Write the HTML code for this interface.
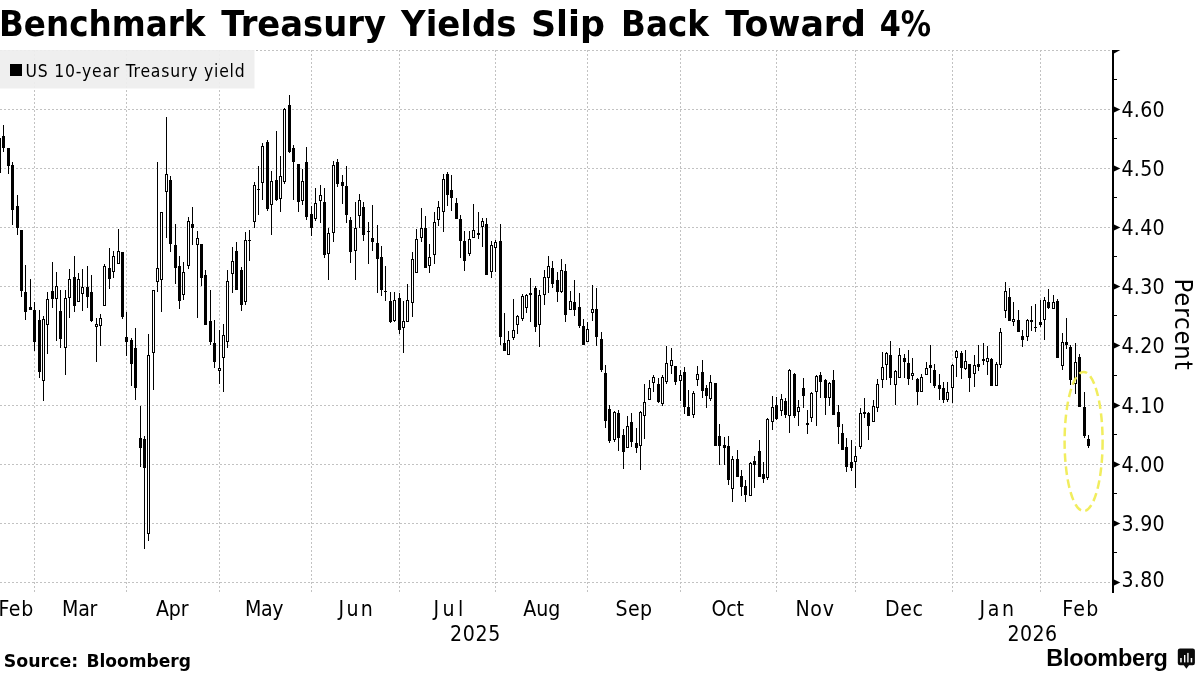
<!DOCTYPE html>
<html lang="en"><head><meta charset="utf-8"><title>Benchmark Treasury Yields Slip Back Toward 4%</title>
<style>
html,body{margin:0;padding:0;background:#fff;}
body{width:1199px;height:674px;overflow:hidden;}
svg{display:block;will-change:transform;}
.t{font-family:"DejaVu Sans","Liberation Sans",sans-serif;font-weight:bold;fill:#000;}
.c{font-family:"DejaVu Sans Condensed","DejaVu Sans","Liberation Sans",sans-serif;fill:#000;}
.l{font-family:"Liberation Sans",sans-serif;font-weight:bold;fill:#000;}
.g{stroke:#c2c2c2;stroke-width:1;stroke-dasharray:2.4 1.6;fill:none;shape-rendering:crispEdges;}
.k{fill:#000;shape-rendering:crispEdges;}
.w{fill:#fff;shape-rendering:crispEdges;}
</style></head><body>
<svg width="1199" height="674" viewBox="0 0 1199 674">
<rect width="1199" height="674" fill="#fff"/>
<g class="g">
<line x1="0" y1="50.5" x2="1112" y2="50.5"/>
<line x1="0" y1="109.5" x2="1112" y2="109.5"/>
<line x1="0" y1="168.5" x2="1112" y2="168.5"/>
<line x1="0" y1="227.5" x2="1112" y2="227.5"/>
<line x1="0" y1="286.5" x2="1112" y2="286.5"/>
<line x1="0" y1="345.5" x2="1112" y2="345.5"/>
<line x1="0" y1="405.5" x2="1112" y2="405.5"/>
<line x1="0" y1="464.5" x2="1112" y2="464.5"/>
<line x1="0" y1="523.5" x2="1112" y2="523.5"/>
<line x1="0" y1="582.5" x2="1112" y2="582.5"/>
<line x1="34.5" y1="50" x2="34.5" y2="593"/>
<line x1="126.5" y1="50" x2="126.5" y2="593"/>
<line x1="219.5" y1="50" x2="219.5" y2="593"/>
<line x1="311.5" y1="50" x2="311.5" y2="593"/>
<line x1="399.5" y1="50" x2="399.5" y2="593"/>
<line x1="495.5" y1="50" x2="495.5" y2="593"/>
<line x1="587.5" y1="50" x2="587.5" y2="593"/>
<line x1="680.5" y1="50" x2="680.5" y2="593"/>
<line x1="776.5" y1="50" x2="776.5" y2="593"/>
<line x1="855.5" y1="50" x2="855.5" y2="593"/>
<line x1="952.5" y1="50" x2="952.5" y2="593"/>
<line x1="1040.5" y1="50" x2="1040.5" y2="593"/>
</g>
<rect x="0" y="50" width="254.5" height="38.5" fill="#eeeeee" fill-opacity="0.93"/>
<rect x="10" y="64" width="12" height="12" fill="#000"/>
<text class="c" x="25.5" y="76.8" font-size="17.4" letter-spacing="0.8">US 10-year Treasury yield</text>
<g>
<rect class="k" x="-1" y="130" width="1" height="45"/>
<rect class="k" x="-2" y="138" width="3" height="35"/>
<rect class="k" x="3" y="125" width="1" height="27"/>
<rect class="k" x="2" y="136" width="3" height="12"/>
<rect class="k" x="8" y="148" width="1" height="26"/>
<rect class="k" x="7" y="148" width="3" height="18"/>
<rect class="k" x="12" y="162" width="1" height="63"/>
<rect class="k" x="11" y="165" width="3" height="45"/>
<rect class="k" x="17" y="195" width="1" height="40"/>
<rect class="k" x="16" y="206" width="3" height="22"/>
<rect class="k" x="21" y="230" width="1" height="67"/>
<rect class="k" x="20" y="230" width="3" height="61"/>
<rect class="k" x="25" y="265" width="1" height="55"/>
<rect class="k" x="24" y="292" width="3" height="20"/>
<rect class="k" x="30" y="279" width="1" height="31"/>
<rect class="k" x="29" y="307" width="3" height="3"/>
<rect class="k" x="34" y="302" width="1" height="49"/>
<rect class="k" x="33" y="310" width="3" height="32"/>
<rect class="k" x="39" y="310" width="1" height="68"/>
<rect class="k" x="38" y="320" width="3" height="52"/>
<rect class="k" x="43" y="316" width="1" height="85"/>
<rect class="k" x="42" y="319" width="3" height="62"/>
<rect class="w" x="43" y="320" width="1" height="60"/>
<rect class="k" x="47" y="292" width="1" height="62"/>
<rect class="k" x="46" y="299" width="3" height="26"/>
<rect class="w" x="47" y="300" width="1" height="24"/>
<rect class="k" x="52" y="262" width="1" height="46"/>
<rect class="k" x="51" y="291" width="3" height="8"/>
<rect class="k" x="56" y="272" width="1" height="69"/>
<rect class="k" x="55" y="286" width="3" height="13"/>
<rect class="w" x="56" y="287" width="1" height="11"/>
<rect class="k" x="60" y="290" width="1" height="58"/>
<rect class="k" x="59" y="311" width="3" height="28"/>
<rect class="k" x="65" y="290" width="1" height="85"/>
<rect class="k" x="64" y="298" width="3" height="50"/>
<rect class="w" x="65" y="299" width="1" height="48"/>
<rect class="k" x="69" y="269" width="1" height="49"/>
<rect class="k" x="68" y="279" width="3" height="19"/>
<rect class="w" x="69" y="280" width="1" height="17"/>
<rect class="k" x="74" y="256" width="1" height="56"/>
<rect class="k" x="73" y="277" width="3" height="29"/>
<rect class="k" x="78" y="273" width="1" height="29"/>
<rect class="k" x="77" y="279" width="3" height="23"/>
<rect class="w" x="78" y="280" width="1" height="21"/>
<rect class="k" x="82" y="269" width="1" height="42"/>
<rect class="k" x="81" y="287" width="3" height="7"/>
<rect class="w" x="82" y="288" width="1" height="5"/>
<rect class="k" x="87" y="266" width="1" height="42"/>
<rect class="k" x="86" y="287" width="3" height="10"/>
<rect class="k" x="91" y="275" width="1" height="47"/>
<rect class="k" x="90" y="292" width="3" height="29"/>
<rect class="k" x="96" y="318" width="1" height="44"/>
<rect class="k" x="95" y="324" width="3" height="3"/>
<rect class="w" x="96" y="325" width="1" height="1"/>
<rect class="k" x="100" y="314" width="1" height="32"/>
<rect class="k" x="99" y="318" width="3" height="8"/>
<rect class="w" x="100" y="319" width="1" height="6"/>
<rect class="k" x="104" y="264" width="1" height="42"/>
<rect class="k" x="103" y="266" width="3" height="40"/>
<rect class="w" x="104" y="267" width="1" height="38"/>
<rect class="k" x="109" y="248" width="1" height="41"/>
<rect class="k" x="108" y="268" width="3" height="11"/>
<rect class="k" x="113" y="251" width="1" height="27"/>
<rect class="k" x="112" y="256" width="3" height="16"/>
<rect class="w" x="113" y="257" width="1" height="14"/>
<rect class="k" x="118" y="229" width="1" height="35"/>
<rect class="k" x="117" y="251" width="3" height="13"/>
<rect class="w" x="118" y="252" width="1" height="11"/>
<rect class="k" x="122" y="252" width="1" height="67"/>
<rect class="k" x="121" y="252" width="3" height="65"/>
<rect class="k" x="126" y="312" width="1" height="44"/>
<rect class="k" x="125" y="337" width="3" height="5"/>
<rect class="k" x="131" y="338" width="1" height="48"/>
<rect class="k" x="130" y="340" width="3" height="24"/>
<rect class="k" x="135" y="328" width="1" height="72"/>
<rect class="k" x="134" y="348" width="3" height="40"/>
<rect class="k" x="140" y="406" width="1" height="61"/>
<rect class="k" x="139" y="438" width="3" height="10"/>
<rect class="k" x="144" y="436" width="1" height="113"/>
<rect class="k" x="143" y="439" width="3" height="29"/>
<rect class="k" x="148" y="334" width="1" height="207"/>
<rect class="k" x="147" y="355" width="3" height="179"/>
<rect class="w" x="148" y="356" width="1" height="177"/>
<rect class="k" x="153" y="290" width="1" height="100"/>
<rect class="k" x="152" y="290" width="3" height="63"/>
<rect class="w" x="153" y="291" width="1" height="61"/>
<rect class="k" x="157" y="162" width="1" height="130"/>
<rect class="k" x="156" y="268" width="3" height="14"/>
<rect class="w" x="157" y="269" width="1" height="12"/>
<rect class="k" x="161" y="212" width="1" height="100"/>
<rect class="k" x="160" y="212" width="3" height="68"/>
<rect class="w" x="161" y="213" width="1" height="66"/>
<rect class="k" x="166" y="117" width="1" height="121"/>
<rect class="k" x="165" y="174" width="3" height="18"/>
<rect class="w" x="166" y="175" width="1" height="16"/>
<rect class="k" x="170" y="176" width="1" height="76"/>
<rect class="k" x="169" y="180" width="3" height="64"/>
<rect class="k" x="175" y="224" width="1" height="60"/>
<rect class="k" x="174" y="245" width="3" height="23"/>
<rect class="k" x="179" y="256" width="1" height="53"/>
<rect class="k" x="178" y="266" width="3" height="35"/>
<rect class="k" x="183" y="262" width="1" height="38"/>
<rect class="k" x="182" y="272" width="3" height="23"/>
<rect class="w" x="183" y="273" width="1" height="21"/>
<rect class="k" x="188" y="217" width="1" height="52"/>
<rect class="k" x="187" y="221" width="3" height="45"/>
<rect class="w" x="188" y="222" width="1" height="43"/>
<rect class="k" x="192" y="207" width="1" height="38"/>
<rect class="k" x="191" y="224" width="3" height="4"/>
<rect class="k" x="197" y="231" width="1" height="87"/>
<rect class="k" x="196" y="238" width="3" height="7"/>
<rect class="w" x="197" y="239" width="1" height="5"/>
<rect class="k" x="201" y="244" width="1" height="42"/>
<rect class="k" x="200" y="244" width="3" height="34"/>
<rect class="k" x="205" y="270" width="1" height="55"/>
<rect class="k" x="204" y="275" width="3" height="50"/>
<rect class="k" x="210" y="290" width="1" height="55"/>
<rect class="k" x="209" y="321" width="3" height="21"/>
<rect class="k" x="214" y="320" width="1" height="48"/>
<rect class="k" x="213" y="343" width="3" height="19"/>
<rect class="k" x="219" y="330" width="1" height="54"/>
<rect class="k" x="218" y="368" width="3" height="3"/>
<rect class="w" x="219" y="369" width="1" height="1"/>
<rect class="k" x="223" y="324" width="1" height="68"/>
<rect class="k" x="222" y="335" width="3" height="23"/>
<rect class="w" x="223" y="336" width="1" height="21"/>
<rect class="k" x="227" y="270" width="1" height="78"/>
<rect class="k" x="226" y="281" width="3" height="61"/>
<rect class="w" x="227" y="282" width="1" height="59"/>
<rect class="k" x="232" y="247" width="1" height="46"/>
<rect class="k" x="231" y="261" width="3" height="13"/>
<rect class="w" x="232" y="262" width="1" height="11"/>
<rect class="k" x="236" y="242" width="1" height="48"/>
<rect class="k" x="235" y="251" width="3" height="39"/>
<rect class="k" x="241" y="267" width="1" height="44"/>
<rect class="k" x="240" y="270" width="3" height="35"/>
<rect class="k" x="245" y="232" width="1" height="73"/>
<rect class="k" x="244" y="240" width="3" height="62"/>
<rect class="w" x="245" y="241" width="1" height="60"/>
<rect class="k" x="249" y="230" width="1" height="31"/>
<rect class="k" x="248" y="240" width="3" height="1"/>
<rect class="k" x="254" y="182" width="1" height="46"/>
<rect class="k" x="253" y="185" width="3" height="37"/>
<rect class="w" x="254" y="186" width="1" height="35"/>
<rect class="k" x="258" y="166" width="1" height="49"/>
<rect class="k" x="257" y="189" width="3" height="1"/>
<rect class="k" x="262" y="143" width="1" height="57"/>
<rect class="k" x="261" y="146" width="3" height="37"/>
<rect class="w" x="262" y="147" width="1" height="35"/>
<rect class="k" x="267" y="140" width="1" height="71"/>
<rect class="k" x="266" y="142" width="3" height="67"/>
<rect class="k" x="271" y="171" width="1" height="64"/>
<rect class="k" x="270" y="181" width="3" height="24"/>
<rect class="w" x="271" y="182" width="1" height="22"/>
<rect class="k" x="276" y="131" width="1" height="70"/>
<rect class="k" x="275" y="180" width="3" height="20"/>
<rect class="k" x="280" y="156" width="1" height="56"/>
<rect class="k" x="279" y="176" width="3" height="23"/>
<rect class="w" x="280" y="177" width="1" height="21"/>
<rect class="k" x="284" y="108" width="1" height="76"/>
<rect class="k" x="283" y="109" width="3" height="73"/>
<rect class="w" x="284" y="110" width="1" height="71"/>
<rect class="k" x="289" y="95" width="1" height="58"/>
<rect class="k" x="288" y="105" width="3" height="47"/>
<rect class="k" x="293" y="145" width="1" height="55"/>
<rect class="k" x="292" y="148" width="3" height="14"/>
<rect class="k" x="298" y="164" width="1" height="48"/>
<rect class="k" x="297" y="164" width="3" height="38"/>
<rect class="k" x="302" y="169" width="1" height="36"/>
<rect class="k" x="301" y="181" width="3" height="20"/>
<rect class="w" x="302" y="182" width="1" height="18"/>
<rect class="k" x="306" y="147" width="1" height="73"/>
<rect class="k" x="305" y="162" width="3" height="55"/>
<rect class="k" x="311" y="206" width="1" height="30"/>
<rect class="k" x="310" y="214" width="3" height="14"/>
<rect class="k" x="315" y="188" width="1" height="33"/>
<rect class="k" x="314" y="203" width="3" height="16"/>
<rect class="w" x="315" y="204" width="1" height="14"/>
<rect class="k" x="320" y="185" width="1" height="38"/>
<rect class="k" x="319" y="195" width="3" height="6"/>
<rect class="w" x="320" y="196" width="1" height="4"/>
<rect class="k" x="324" y="188" width="1" height="70"/>
<rect class="k" x="323" y="202" width="3" height="53"/>
<rect class="k" x="328" y="228" width="1" height="52"/>
<rect class="k" x="327" y="233" width="3" height="21"/>
<rect class="w" x="328" y="234" width="1" height="19"/>
<rect class="k" x="333" y="161" width="1" height="81"/>
<rect class="k" x="332" y="165" width="3" height="68"/>
<rect class="w" x="333" y="166" width="1" height="66"/>
<rect class="k" x="337" y="159" width="1" height="28"/>
<rect class="k" x="336" y="162" width="3" height="22"/>
<rect class="k" x="342" y="175" width="1" height="29"/>
<rect class="k" x="341" y="182" width="3" height="4"/>
<rect class="k" x="346" y="166" width="1" height="57"/>
<rect class="k" x="345" y="186" width="3" height="29"/>
<rect class="k" x="350" y="217" width="1" height="46"/>
<rect class="k" x="349" y="220" width="3" height="32"/>
<rect class="k" x="355" y="202" width="1" height="78"/>
<rect class="k" x="354" y="228" width="3" height="23"/>
<rect class="w" x="355" y="229" width="1" height="21"/>
<rect class="k" x="359" y="194" width="1" height="34"/>
<rect class="k" x="358" y="200" width="3" height="16"/>
<rect class="w" x="359" y="201" width="1" height="14"/>
<rect class="k" x="363" y="202" width="1" height="39"/>
<rect class="k" x="362" y="207" width="3" height="28"/>
<rect class="k" x="368" y="222" width="1" height="42"/>
<rect class="k" x="367" y="231" width="3" height="1"/>
<rect class="k" x="372" y="205" width="1" height="46"/>
<rect class="k" x="371" y="238" width="3" height="4"/>
<rect class="k" x="377" y="225" width="1" height="68"/>
<rect class="k" x="376" y="243" width="3" height="16"/>
<rect class="k" x="381" y="246" width="1" height="50"/>
<rect class="k" x="380" y="257" width="3" height="33"/>
<rect class="k" x="385" y="266" width="1" height="35"/>
<rect class="k" x="384" y="291" width="3" height="1"/>
<rect class="k" x="390" y="292" width="1" height="31"/>
<rect class="k" x="389" y="301" width="3" height="21"/>
<rect class="k" x="394" y="292" width="1" height="30"/>
<rect class="k" x="393" y="300" width="3" height="21"/>
<rect class="w" x="394" y="301" width="1" height="19"/>
<rect class="k" x="399" y="293" width="1" height="41"/>
<rect class="k" x="398" y="298" width="3" height="32"/>
<rect class="k" x="403" y="301" width="1" height="52"/>
<rect class="k" x="402" y="321" width="3" height="7"/>
<rect class="w" x="403" y="322" width="1" height="5"/>
<rect class="k" x="407" y="284" width="1" height="38"/>
<rect class="k" x="406" y="300" width="3" height="22"/>
<rect class="w" x="407" y="301" width="1" height="20"/>
<rect class="k" x="412" y="252" width="1" height="65"/>
<rect class="k" x="411" y="259" width="3" height="44"/>
<rect class="w" x="412" y="260" width="1" height="42"/>
<rect class="k" x="416" y="229" width="1" height="44"/>
<rect class="k" x="415" y="239" width="3" height="34"/>
<rect class="w" x="416" y="240" width="1" height="32"/>
<rect class="k" x="421" y="208" width="1" height="34"/>
<rect class="k" x="420" y="228" width="3" height="10"/>
<rect class="w" x="421" y="229" width="1" height="8"/>
<rect class="k" x="425" y="216" width="1" height="52"/>
<rect class="k" x="424" y="228" width="3" height="40"/>
<rect class="k" x="429" y="244" width="1" height="29"/>
<rect class="k" x="428" y="257" width="3" height="9"/>
<rect class="w" x="429" y="258" width="1" height="7"/>
<rect class="k" x="434" y="212" width="1" height="52"/>
<rect class="k" x="433" y="222" width="3" height="33"/>
<rect class="w" x="434" y="223" width="1" height="31"/>
<rect class="k" x="438" y="201" width="1" height="25"/>
<rect class="k" x="437" y="207" width="3" height="13"/>
<rect class="w" x="438" y="208" width="1" height="11"/>
<rect class="k" x="443" y="174" width="1" height="58"/>
<rect class="k" x="442" y="179" width="3" height="33"/>
<rect class="w" x="443" y="180" width="1" height="31"/>
<rect class="k" x="447" y="172" width="1" height="34"/>
<rect class="k" x="446" y="174" width="3" height="21"/>
<rect class="k" x="451" y="175" width="1" height="36"/>
<rect class="k" x="450" y="190" width="3" height="8"/>
<rect class="k" x="456" y="198" width="1" height="21"/>
<rect class="k" x="455" y="203" width="3" height="16"/>
<rect class="k" x="460" y="215" width="1" height="43"/>
<rect class="k" x="459" y="219" width="3" height="22"/>
<rect class="k" x="464" y="231" width="1" height="40"/>
<rect class="k" x="463" y="241" width="3" height="20"/>
<rect class="k" x="469" y="231" width="1" height="25"/>
<rect class="k" x="468" y="239" width="3" height="15"/>
<rect class="w" x="469" y="240" width="1" height="13"/>
<rect class="k" x="473" y="204" width="1" height="34"/>
<rect class="k" x="472" y="230" width="3" height="8"/>
<rect class="w" x="473" y="231" width="1" height="6"/>
<rect class="k" x="478" y="212" width="1" height="27"/>
<rect class="k" x="477" y="233" width="3" height="2"/>
<rect class="k" x="482" y="218" width="1" height="29"/>
<rect class="k" x="481" y="221" width="3" height="6"/>
<rect class="w" x="482" y="222" width="1" height="4"/>
<rect class="k" x="486" y="218" width="1" height="57"/>
<rect class="k" x="485" y="224" width="3" height="51"/>
<rect class="k" x="491" y="241" width="1" height="37"/>
<rect class="k" x="490" y="245" width="3" height="27"/>
<rect class="w" x="491" y="246" width="1" height="25"/>
<rect class="k" x="495" y="240" width="1" height="32"/>
<rect class="k" x="494" y="242" width="3" height="6"/>
<rect class="w" x="495" y="243" width="1" height="4"/>
<rect class="k" x="500" y="224" width="1" height="121"/>
<rect class="k" x="499" y="241" width="3" height="96"/>
<rect class="k" x="504" y="313" width="1" height="38"/>
<rect class="k" x="503" y="343" width="3" height="8"/>
<rect class="k" x="508" y="331" width="1" height="24"/>
<rect class="k" x="507" y="340" width="3" height="15"/>
<rect class="w" x="508" y="341" width="1" height="13"/>
<rect class="k" x="513" y="299" width="1" height="41"/>
<rect class="k" x="512" y="330" width="3" height="8"/>
<rect class="w" x="513" y="331" width="1" height="6"/>
<rect class="k" x="517" y="315" width="1" height="19"/>
<rect class="k" x="516" y="316" width="3" height="9"/>
<rect class="w" x="517" y="317" width="1" height="7"/>
<rect class="k" x="522" y="294" width="1" height="27"/>
<rect class="k" x="521" y="296" width="3" height="23"/>
<rect class="w" x="522" y="297" width="1" height="21"/>
<rect class="k" x="526" y="294" width="1" height="19"/>
<rect class="k" x="525" y="295" width="3" height="13"/>
<rect class="w" x="526" y="296" width="1" height="11"/>
<rect class="k" x="530" y="278" width="1" height="44"/>
<rect class="k" x="529" y="293" width="3" height="2"/>
<rect class="k" x="535" y="286" width="1" height="46"/>
<rect class="k" x="534" y="288" width="3" height="39"/>
<rect class="k" x="539" y="290" width="1" height="57"/>
<rect class="k" x="538" y="295" width="3" height="30"/>
<rect class="w" x="539" y="296" width="1" height="28"/>
<rect class="k" x="544" y="270" width="1" height="35"/>
<rect class="k" x="543" y="277" width="3" height="18"/>
<rect class="w" x="544" y="278" width="1" height="16"/>
<rect class="k" x="548" y="256" width="1" height="37"/>
<rect class="k" x="547" y="266" width="3" height="12"/>
<rect class="w" x="548" y="267" width="1" height="10"/>
<rect class="k" x="552" y="261" width="1" height="27"/>
<rect class="k" x="551" y="268" width="3" height="16"/>
<rect class="k" x="557" y="272" width="1" height="30"/>
<rect class="k" x="556" y="280" width="3" height="12"/>
<rect class="k" x="561" y="259" width="1" height="34"/>
<rect class="k" x="560" y="270" width="3" height="22"/>
<rect class="w" x="561" y="271" width="1" height="20"/>
<rect class="k" x="565" y="264" width="1" height="58"/>
<rect class="k" x="564" y="271" width="3" height="44"/>
<rect class="k" x="570" y="291" width="1" height="19"/>
<rect class="k" x="569" y="301" width="3" height="9"/>
<rect class="w" x="570" y="302" width="1" height="7"/>
<rect class="k" x="574" y="280" width="1" height="36"/>
<rect class="k" x="573" y="302" width="3" height="8"/>
<rect class="k" x="579" y="293" width="1" height="35"/>
<rect class="k" x="578" y="307" width="3" height="19"/>
<rect class="k" x="583" y="319" width="1" height="26"/>
<rect class="k" x="582" y="326" width="3" height="19"/>
<rect class="k" x="587" y="322" width="1" height="20"/>
<rect class="k" x="586" y="329" width="3" height="13"/>
<rect class="w" x="587" y="330" width="1" height="11"/>
<rect class="k" x="592" y="285" width="1" height="36"/>
<rect class="k" x="591" y="309" width="3" height="4"/>
<rect class="w" x="592" y="310" width="1" height="2"/>
<rect class="k" x="596" y="288" width="1" height="58"/>
<rect class="k" x="595" y="309" width="3" height="28"/>
<rect class="k" x="601" y="332" width="1" height="40"/>
<rect class="k" x="600" y="339" width="3" height="31"/>
<rect class="k" x="605" y="365" width="1" height="63"/>
<rect class="k" x="604" y="373" width="3" height="48"/>
<rect class="k" x="609" y="405" width="1" height="38"/>
<rect class="k" x="608" y="409" width="3" height="32"/>
<rect class="k" x="614" y="411" width="1" height="31"/>
<rect class="k" x="613" y="412" width="3" height="28"/>
<rect class="w" x="614" y="413" width="1" height="26"/>
<rect class="k" x="618" y="410" width="1" height="41"/>
<rect class="k" x="617" y="413" width="3" height="25"/>
<rect class="k" x="623" y="429" width="1" height="40"/>
<rect class="k" x="622" y="435" width="3" height="17"/>
<rect class="k" x="627" y="416" width="1" height="32"/>
<rect class="k" x="626" y="426" width="3" height="22"/>
<rect class="w" x="627" y="427" width="1" height="20"/>
<rect class="k" x="631" y="413" width="1" height="34"/>
<rect class="k" x="630" y="422" width="3" height="20"/>
<rect class="k" x="636" y="428" width="1" height="25"/>
<rect class="k" x="635" y="443" width="3" height="5"/>
<rect class="k" x="640" y="411" width="1" height="59"/>
<rect class="k" x="639" y="412" width="3" height="34"/>
<rect class="w" x="640" y="413" width="1" height="32"/>
<rect class="k" x="644" y="384" width="1" height="55"/>
<rect class="k" x="643" y="402" width="3" height="14"/>
<rect class="w" x="644" y="403" width="1" height="12"/>
<rect class="k" x="649" y="380" width="1" height="20"/>
<rect class="k" x="648" y="388" width="3" height="12"/>
<rect class="w" x="649" y="389" width="1" height="10"/>
<rect class="k" x="653" y="375" width="1" height="17"/>
<rect class="k" x="652" y="377" width="3" height="6"/>
<rect class="w" x="653" y="378" width="1" height="4"/>
<rect class="k" x="658" y="378" width="1" height="25"/>
<rect class="k" x="657" y="384" width="3" height="18"/>
<rect class="k" x="662" y="375" width="1" height="31"/>
<rect class="k" x="661" y="377" width="3" height="27"/>
<rect class="w" x="662" y="378" width="1" height="25"/>
<rect class="k" x="666" y="346" width="1" height="38"/>
<rect class="k" x="665" y="363" width="3" height="19"/>
<rect class="w" x="666" y="364" width="1" height="17"/>
<rect class="k" x="671" y="348" width="1" height="26"/>
<rect class="k" x="670" y="360" width="3" height="6"/>
<rect class="w" x="671" y="361" width="1" height="4"/>
<rect class="k" x="675" y="366" width="1" height="19"/>
<rect class="k" x="674" y="366" width="3" height="16"/>
<rect class="k" x="680" y="370" width="1" height="31"/>
<rect class="k" x="679" y="375" width="3" height="6"/>
<rect class="w" x="680" y="376" width="1" height="4"/>
<rect class="k" x="684" y="367" width="1" height="47"/>
<rect class="k" x="683" y="372" width="3" height="35"/>
<rect class="k" x="688" y="390" width="1" height="26"/>
<rect class="k" x="687" y="407" width="3" height="9"/>
<rect class="k" x="693" y="391" width="1" height="27"/>
<rect class="k" x="692" y="393" width="3" height="22"/>
<rect class="w" x="693" y="394" width="1" height="20"/>
<rect class="k" x="697" y="366" width="1" height="20"/>
<rect class="k" x="696" y="374" width="3" height="6"/>
<rect class="w" x="697" y="375" width="1" height="4"/>
<rect class="k" x="702" y="360" width="1" height="38"/>
<rect class="k" x="701" y="372" width="3" height="19"/>
<rect class="k" x="706" y="385" width="1" height="23"/>
<rect class="k" x="705" y="388" width="3" height="8"/>
<rect class="k" x="710" y="375" width="1" height="26"/>
<rect class="k" x="709" y="382" width="3" height="17"/>
<rect class="w" x="710" y="383" width="1" height="15"/>
<rect class="k" x="715" y="383" width="1" height="63"/>
<rect class="k" x="714" y="383" width="3" height="63"/>
<rect class="k" x="719" y="424" width="1" height="41"/>
<rect class="k" x="718" y="436" width="3" height="10"/>
<rect class="k" x="724" y="437" width="1" height="28"/>
<rect class="k" x="723" y="445" width="3" height="3"/>
<rect class="k" x="728" y="436" width="1" height="49"/>
<rect class="k" x="727" y="446" width="3" height="34"/>
<rect class="k" x="732" y="456" width="1" height="46"/>
<rect class="k" x="731" y="459" width="3" height="30"/>
<rect class="w" x="732" y="460" width="1" height="28"/>
<rect class="k" x="737" y="450" width="1" height="27"/>
<rect class="k" x="736" y="459" width="3" height="18"/>
<rect class="k" x="741" y="470" width="1" height="26"/>
<rect class="k" x="740" y="476" width="3" height="11"/>
<rect class="k" x="745" y="480" width="1" height="22"/>
<rect class="k" x="744" y="486" width="3" height="9"/>
<rect class="k" x="750" y="462" width="1" height="34"/>
<rect class="k" x="749" y="463" width="3" height="33"/>
<rect class="w" x="750" y="464" width="1" height="31"/>
<rect class="k" x="754" y="456" width="1" height="32"/>
<rect class="k" x="753" y="461" width="3" height="4"/>
<rect class="k" x="759" y="440" width="1" height="37"/>
<rect class="k" x="758" y="451" width="3" height="26"/>
<rect class="k" x="763" y="462" width="1" height="21"/>
<rect class="k" x="762" y="474" width="3" height="5"/>
<rect class="k" x="767" y="418" width="1" height="62"/>
<rect class="k" x="766" y="419" width="3" height="59"/>
<rect class="w" x="767" y="420" width="1" height="57"/>
<rect class="k" x="772" y="396" width="1" height="34"/>
<rect class="k" x="771" y="407" width="3" height="15"/>
<rect class="w" x="772" y="408" width="1" height="13"/>
<rect class="k" x="776" y="397" width="1" height="23"/>
<rect class="k" x="775" y="405" width="3" height="14"/>
<rect class="k" x="781" y="394" width="1" height="22"/>
<rect class="k" x="780" y="399" width="3" height="12"/>
<rect class="w" x="781" y="400" width="1" height="10"/>
<rect class="k" x="785" y="398" width="1" height="20"/>
<rect class="k" x="784" y="401" width="3" height="14"/>
<rect class="k" x="789" y="369" width="1" height="64"/>
<rect class="k" x="788" y="370" width="3" height="46"/>
<rect class="w" x="789" y="371" width="1" height="44"/>
<rect class="k" x="794" y="373" width="1" height="45"/>
<rect class="k" x="793" y="374" width="3" height="42"/>
<rect class="k" x="798" y="400" width="1" height="26"/>
<rect class="k" x="797" y="407" width="3" height="5"/>
<rect class="w" x="798" y="408" width="1" height="3"/>
<rect class="k" x="803" y="378" width="1" height="30"/>
<rect class="k" x="802" y="388" width="3" height="8"/>
<rect class="k" x="807" y="410" width="1" height="24"/>
<rect class="k" x="806" y="423" width="3" height="2"/>
<rect class="k" x="811" y="392" width="1" height="30"/>
<rect class="k" x="810" y="393" width="3" height="25"/>
<rect class="w" x="811" y="394" width="1" height="23"/>
<rect class="k" x="816" y="375" width="1" height="51"/>
<rect class="k" x="815" y="376" width="3" height="16"/>
<rect class="w" x="816" y="377" width="1" height="14"/>
<rect class="k" x="820" y="372" width="1" height="26"/>
<rect class="k" x="819" y="375" width="3" height="7"/>
<rect class="k" x="825" y="379" width="1" height="36"/>
<rect class="k" x="824" y="380" width="3" height="18"/>
<rect class="k" x="829" y="382" width="1" height="24"/>
<rect class="k" x="828" y="383" width="3" height="15"/>
<rect class="w" x="829" y="384" width="1" height="13"/>
<rect class="k" x="833" y="370" width="1" height="45"/>
<rect class="k" x="832" y="380" width="3" height="35"/>
<rect class="k" x="838" y="405" width="1" height="39"/>
<rect class="k" x="837" y="412" width="3" height="15"/>
<rect class="k" x="842" y="424" width="1" height="26"/>
<rect class="k" x="841" y="433" width="3" height="17"/>
<rect class="k" x="846" y="438" width="1" height="34"/>
<rect class="k" x="845" y="447" width="3" height="20"/>
<rect class="k" x="851" y="440" width="1" height="31"/>
<rect class="k" x="850" y="462" width="3" height="6"/>
<rect class="k" x="855" y="446" width="1" height="42"/>
<rect class="k" x="854" y="456" width="3" height="6"/>
<rect class="w" x="855" y="457" width="1" height="4"/>
<rect class="k" x="860" y="408" width="1" height="41"/>
<rect class="k" x="859" y="413" width="3" height="34"/>
<rect class="w" x="860" y="414" width="1" height="32"/>
<rect class="k" x="864" y="398" width="1" height="20"/>
<rect class="k" x="863" y="412" width="3" height="2"/>
<rect class="k" x="868" y="412" width="1" height="28"/>
<rect class="k" x="867" y="413" width="3" height="13"/>
<rect class="k" x="873" y="400" width="1" height="22"/>
<rect class="k" x="872" y="406" width="3" height="16"/>
<rect class="w" x="873" y="407" width="1" height="14"/>
<rect class="k" x="877" y="379" width="1" height="33"/>
<rect class="k" x="876" y="384" width="3" height="24"/>
<rect class="w" x="877" y="385" width="1" height="22"/>
<rect class="k" x="882" y="352" width="1" height="36"/>
<rect class="k" x="881" y="367" width="3" height="13"/>
<rect class="w" x="882" y="368" width="1" height="11"/>
<rect class="k" x="886" y="352" width="1" height="28"/>
<rect class="k" x="885" y="353" width="3" height="12"/>
<rect class="w" x="886" y="354" width="1" height="10"/>
<rect class="k" x="890" y="341" width="1" height="44"/>
<rect class="k" x="889" y="355" width="3" height="23"/>
<rect class="k" x="895" y="370" width="1" height="35"/>
<rect class="k" x="894" y="371" width="3" height="14"/>
<rect class="w" x="895" y="372" width="1" height="12"/>
<rect class="k" x="899" y="348" width="1" height="30"/>
<rect class="k" x="898" y="355" width="3" height="23"/>
<rect class="w" x="899" y="356" width="1" height="21"/>
<rect class="k" x="904" y="354" width="1" height="24"/>
<rect class="k" x="903" y="358" width="3" height="4"/>
<rect class="k" x="908" y="350" width="1" height="35"/>
<rect class="k" x="907" y="363" width="3" height="16"/>
<rect class="k" x="912" y="358" width="1" height="22"/>
<rect class="k" x="911" y="373" width="3" height="3"/>
<rect class="w" x="912" y="374" width="1" height="1"/>
<rect class="k" x="917" y="378" width="1" height="27"/>
<rect class="k" x="916" y="379" width="3" height="13"/>
<rect class="k" x="921" y="374" width="1" height="18"/>
<rect class="k" x="920" y="377" width="3" height="15"/>
<rect class="w" x="921" y="378" width="1" height="13"/>
<rect class="k" x="926" y="362" width="1" height="13"/>
<rect class="k" x="925" y="368" width="3" height="7"/>
<rect class="w" x="926" y="369" width="1" height="5"/>
<rect class="k" x="930" y="345" width="1" height="38"/>
<rect class="k" x="929" y="365" width="3" height="3"/>
<rect class="k" x="934" y="364" width="1" height="24"/>
<rect class="k" x="933" y="370" width="3" height="16"/>
<rect class="k" x="939" y="374" width="1" height="26"/>
<rect class="k" x="938" y="385" width="3" height="4"/>
<rect class="k" x="943" y="382" width="1" height="21"/>
<rect class="k" x="942" y="388" width="3" height="12"/>
<rect class="k" x="947" y="382" width="1" height="20"/>
<rect class="k" x="946" y="392" width="3" height="8"/>
<rect class="w" x="947" y="393" width="1" height="6"/>
<rect class="k" x="952" y="364" width="1" height="39"/>
<rect class="k" x="951" y="365" width="3" height="23"/>
<rect class="w" x="952" y="366" width="1" height="21"/>
<rect class="k" x="956" y="350" width="1" height="27"/>
<rect class="k" x="955" y="351" width="3" height="7"/>
<rect class="w" x="956" y="352" width="1" height="5"/>
<rect class="k" x="961" y="351" width="1" height="28"/>
<rect class="k" x="960" y="353" width="3" height="15"/>
<rect class="k" x="965" y="350" width="1" height="20"/>
<rect class="k" x="964" y="361" width="3" height="8"/>
<rect class="w" x="965" y="362" width="1" height="6"/>
<rect class="k" x="969" y="364" width="1" height="28"/>
<rect class="k" x="968" y="364" width="3" height="14"/>
<rect class="k" x="974" y="355" width="1" height="32"/>
<rect class="k" x="973" y="365" width="3" height="9"/>
<rect class="w" x="974" y="366" width="1" height="7"/>
<rect class="k" x="978" y="345" width="1" height="26"/>
<rect class="k" x="977" y="364" width="3" height="3"/>
<rect class="k" x="983" y="343" width="1" height="22"/>
<rect class="k" x="982" y="359" width="3" height="2"/>
<rect class="k" x="987" y="346" width="1" height="29"/>
<rect class="k" x="986" y="358" width="3" height="4"/>
<rect class="w" x="987" y="359" width="1" height="2"/>
<rect class="k" x="991" y="358" width="1" height="28"/>
<rect class="k" x="990" y="359" width="3" height="27"/>
<rect class="k" x="996" y="362" width="1" height="24"/>
<rect class="k" x="995" y="364" width="3" height="22"/>
<rect class="w" x="996" y="365" width="1" height="20"/>
<rect class="k" x="1000" y="328" width="1" height="40"/>
<rect class="k" x="999" y="332" width="3" height="33"/>
<rect class="w" x="1000" y="333" width="1" height="31"/>
<rect class="k" x="1005" y="282" width="1" height="36"/>
<rect class="k" x="1004" y="291" width="3" height="20"/>
<rect class="w" x="1005" y="292" width="1" height="18"/>
<rect class="k" x="1009" y="288" width="1" height="33"/>
<rect class="k" x="1008" y="297" width="3" height="24"/>
<rect class="k" x="1013" y="302" width="1" height="24"/>
<rect class="k" x="1012" y="319" width="3" height="3"/>
<rect class="w" x="1013" y="320" width="1" height="1"/>
<rect class="k" x="1018" y="310" width="1" height="22"/>
<rect class="k" x="1017" y="320" width="3" height="12"/>
<rect class="k" x="1022" y="330" width="1" height="17"/>
<rect class="k" x="1021" y="336" width="3" height="4"/>
<rect class="k" x="1027" y="319" width="1" height="22"/>
<rect class="k" x="1026" y="320" width="3" height="17"/>
<rect class="w" x="1027" y="321" width="1" height="15"/>
<rect class="k" x="1031" y="306" width="1" height="25"/>
<rect class="k" x="1030" y="320" width="3" height="2"/>
<rect class="k" x="1035" y="304" width="1" height="28"/>
<rect class="k" x="1034" y="327" width="3" height="1"/>
<rect class="k" x="1040" y="300" width="1" height="27"/>
<rect class="k" x="1039" y="322" width="3" height="3"/>
<rect class="k" x="1044" y="297" width="1" height="43"/>
<rect class="k" x="1043" y="300" width="3" height="20"/>
<rect class="w" x="1044" y="301" width="1" height="18"/>
<rect class="k" x="1048" y="289" width="1" height="20"/>
<rect class="k" x="1047" y="302" width="3" height="6"/>
<rect class="k" x="1053" y="295" width="1" height="14"/>
<rect class="k" x="1052" y="302" width="3" height="7"/>
<rect class="w" x="1053" y="303" width="1" height="5"/>
<rect class="k" x="1057" y="299" width="1" height="59"/>
<rect class="k" x="1056" y="301" width="3" height="57"/>
<rect class="k" x="1062" y="333" width="1" height="37"/>
<rect class="k" x="1061" y="342" width="3" height="24"/>
<rect class="w" x="1062" y="343" width="1" height="22"/>
<rect class="k" x="1066" y="318" width="1" height="31"/>
<rect class="k" x="1065" y="342" width="3" height="3"/>
<rect class="k" x="1070" y="345" width="1" height="40"/>
<rect class="k" x="1069" y="347" width="3" height="33"/>
<rect class="k" x="1075" y="343" width="1" height="51"/>
<rect class="k" x="1074" y="362" width="3" height="22"/>
<rect class="w" x="1075" y="363" width="1" height="20"/>
<rect class="k" x="1079" y="354" width="1" height="53"/>
<rect class="k" x="1078" y="357" width="3" height="50"/>
<rect class="k" x="1084" y="392" width="1" height="46"/>
<rect class="k" x="1083" y="407" width="3" height="29"/>
<rect class="k" x="1088" y="435" width="1" height="13"/>
<rect class="k" x="1087" y="439" width="3" height="7"/>
</g>
<ellipse cx="1083.6" cy="441.5" rx="19" ry="69.6" fill="none" stroke="#f1ed5e" stroke-width="2.5" stroke-dasharray="8.5 4.5"/>
<rect class="k" x="1112" y="50" width="2" height="543"/>
<path d="M1114 50 L1120.3 50 L1114 53.6 Z" fill="#000"/>
<path d="M1114 106.4 L1120.3 109.5 L1114 112.6 Z" fill="#000"/>
<text class="c" x="1121.5" y="117" font-size="21.1" letter-spacing="0.3">4.60</text>
<rect class="k" x="1112" y="79" width="5" height="1"/>
<path d="M1114 165.4 L1120.3 168.5 L1114 171.6 Z" fill="#000"/>
<text class="c" x="1121.5" y="176" font-size="21.1" letter-spacing="0.3">4.50</text>
<rect class="k" x="1112" y="138" width="5" height="1"/>
<path d="M1114 224.4 L1120.3 227.5 L1114 230.6 Z" fill="#000"/>
<text class="c" x="1121.5" y="235" font-size="21.1" letter-spacing="0.3">4.40</text>
<rect class="k" x="1112" y="197" width="5" height="1"/>
<path d="M1114 283.4 L1120.3 286.5 L1114 289.6 Z" fill="#000"/>
<text class="c" x="1121.5" y="294" font-size="21.1" letter-spacing="0.3">4.30</text>
<rect class="k" x="1112" y="256" width="5" height="1"/>
<path d="M1114 342.4 L1120.3 345.5 L1114 348.6 Z" fill="#000"/>
<text class="c" x="1121.5" y="353" font-size="21.1" letter-spacing="0.3">4.20</text>
<rect class="k" x="1112" y="315" width="5" height="1"/>
<path d="M1114 402.4 L1120.3 405.5 L1114 408.6 Z" fill="#000"/>
<text class="c" x="1121.5" y="413" font-size="21.1" letter-spacing="0.3">4.10</text>
<rect class="k" x="1112" y="375" width="5" height="1"/>
<path d="M1114 461.4 L1120.3 464.5 L1114 467.6 Z" fill="#000"/>
<text class="c" x="1121.5" y="472" font-size="21.1" letter-spacing="0.3">4.00</text>
<rect class="k" x="1112" y="434" width="5" height="1"/>
<path d="M1114 520.4 L1120.3 523.5 L1114 526.6 Z" fill="#000"/>
<text class="c" x="1121.5" y="531" font-size="21.1" letter-spacing="0.3">3.90</text>
<rect class="k" x="1112" y="493" width="5" height="1"/>
<path d="M1114 579.4 L1120.3 582.5 L1114 585.6 Z" fill="#000"/>
<text class="c" x="1121.5" y="586.5" font-size="21.1" letter-spacing="0.3">3.80</text>
<rect class="k" x="1112" y="552" width="5" height="1"/>
<text class="c" font-size="25.4" letter-spacing="0.9" transform="translate(1174.7,278.5) rotate(90)">Percent</text>
<text class="c" x="-1.6" y="616" font-size="21.1" letter-spacing="0.66">Feb</text>
<text class="c" x="62.1" y="616" font-size="21.1" letter-spacing="-0.28">Mar</text>
<text class="c" x="155.9" y="616" font-size="21.1" letter-spacing="-0.10">Apr</text>
<text class="c" x="245.0" y="616" font-size="21.1" letter-spacing="-0.37">May</text>
<text class="c" x="338.5" y="616" font-size="21.1" letter-spacing="2.33">Jun</text>
<text class="c" x="433.4" y="616" font-size="21.1" letter-spacing="3.55">Jul</text>
<text class="c" x="523.3" y="616" font-size="21.1" letter-spacing="-0.05">Aug</text>
<text class="c" x="615.6" y="616" font-size="21.1" letter-spacing="0.29">Sep</text>
<text class="c" x="711.5" y="616" font-size="21.1" letter-spacing="-0.16">Oct</text>
<text class="c" x="795.4" y="616" font-size="21.1" letter-spacing="0.74">Nov</text>
<text class="c" x="884.9" y="616" font-size="21.1" letter-spacing="0.64">Dec</text>
<text class="c" x="979.5" y="616" font-size="21.1" letter-spacing="2.68">Jan</text>
<text class="c" x="1062.3" y="616" font-size="21.1" letter-spacing="1.31">Feb</text>
<text class="c" x="450.1" y="640.7" font-size="21.1" letter-spacing="0.61">2025</text>
<text class="c" x="1007.4" y="640.7" font-size="21.1" letter-spacing="0.46">2026</text>
<text class="t" y="36" font-size="35.2"><tspan x="-1.0" textLength="206.4" lengthAdjust="spacingAndGlyphs">Benchmark</tspan> <tspan x="221.3" textLength="164.8" lengthAdjust="spacingAndGlyphs">Treasury</tspan> <tspan x="401.0" textLength="115.6" lengthAdjust="spacingAndGlyphs">Yields</tspan> <tspan x="531.0" textLength="74.0" lengthAdjust="spacingAndGlyphs">Slip</tspan> <tspan x="621.1" textLength="87.8" lengthAdjust="spacingAndGlyphs">Back</tspan> <tspan x="725.3" textLength="140.6" lengthAdjust="spacingAndGlyphs">Toward</tspan> <tspan x="879.7" textLength="51.4" lengthAdjust="spacingAndGlyphs">4%</tspan></text>
<text class="t" y="667" font-size="17"><tspan x="3.8" textLength="74.4" lengthAdjust="spacingAndGlyphs">Source:</tspan> <tspan x="86.5" textLength="104.5" lengthAdjust="spacingAndGlyphs">Bloomberg</tspan></text>
<text class="l" x="1046.3" y="665.5" font-size="23.5" letter-spacing="-0.3">Bloomberg</text>
<g><path d="M1180 648.4 h12.700 a2.2 2.2 0 0 1 2.2 2.2 v12.500 a2.2 2.2 0 0 1 -2.2 2.2 h-3.700 l-2.600 3.5 l-2.600 -3.5 h-3.800 a2.2 2.2 0 0 1 -2.200 -2.2 v-12.500 a2.2 2.2 0 0 1 2.200 -2.2 z" fill="#0a0a0a"/>
<rect x="1180" y="658" width="1.9" height="4.4" fill="#ccc"/><rect x="1184" y="655" width="1.4" height="7.4" fill="#fff"/><rect x="1187.100" y="652.9" width="1.6" height="9.5" fill="#ddd"/><rect x="1190.7" y="658" width="1.5" height="4.4" fill="#fff"/></g>
</svg></body></html>
